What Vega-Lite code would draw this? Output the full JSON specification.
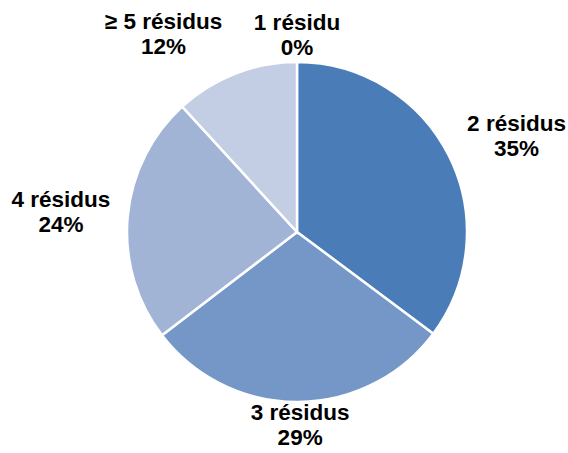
{
  "$schema": "https://vega.github.io/schema/vega-lite/v6.json",
  "autosize": {"type": "none"},
  "width": 542,
  "height": 442,
  "padding": {"left": 26, "top": 11, "right": 0, "bottom": 0},
  "background": "white",
  "view": {"stroke": null},
  "config": {
    "text": {"align": "center", "baseline": "middle", "lineBreak": "\n", "lineHeight": 25, "font": "Liberation Sans", "fontWeight": "bold", "fontSize": 22.5, "color": "black"}
  },
  "data": {
    "values": [
      {"n": 1, "cat": "1 résidu", "pct": 0, "label": "1 résidu\n0%"},
      {"n": 2, "cat": "2 résidus", "pct": 35.2, "label": "2 résidus\n35%"},
      {"n": 3, "cat": "3 résidus", "pct": 29.4, "label": "3 résidus\n29%"},
      {"n": 4, "cat": "4 résidus", "pct": 23.6, "label": "4 résidus\n24%"},
      {"n": 5, "cat": "≥ 5 résidus", "pct": 11.8, "label": "≥ 5 résidus\n12%"}
    ]
  },
  "encoding": {
    "theta": {"field": "pct", "type": "quantitative", "stack": true, "scale": {"domain": [0, 100]}},
    "order": {"field": "n", "type": "quantitative"}
  },
  "layer": [
    {
      "mark": {"type": "arc", "outerRadius": 170, "stroke": "white", "strokeWidth": 2.5},
      "encoding": {
        "color": {
          "field": "cat",
          "type": "nominal",
          "legend": null,
          "scale": {
            "domain": ["1 résidu", "2 résidus", "3 résidus", "4 résidus", "≥ 5 résidus"],
            "range": ["#2f5f98", "#4a7db8", "#7597c8", "#a2b4d6", "#c3cde3"]
          }
        }
      }
    },
    {
      "mark": {"type": "text", "radius": 209},
      "encoding": {"text": {"condition": {"test": "datum.n == 1", "field": "label"}, "value": ""}}
    },
    {
      "mark": {"type": "text", "radius": 240, "dx": 5},
      "encoding": {"text": {"condition": {"test": "datum.n == 2", "field": "label"}, "value": ""}}
    },
    {
      "mark": {"type": "text", "radius": 181, "dx": 2},
      "encoding": {"text": {"condition": {"test": "datum.n == 3", "field": "label"}, "value": ""}}
    },
    {
      "mark": {"type": "text", "radius": 237, "dy": -11},
      "encoding": {"text": {"condition": {"test": "datum.n == 4", "field": "label"}, "value": ""}}
    },
    {
      "mark": {"type": "text", "radius": 225, "dx": -52},
      "encoding": {"text": {"condition": {"test": "datum.n == 5", "field": "label"}, "value": ""}}
    }
  ]
}
